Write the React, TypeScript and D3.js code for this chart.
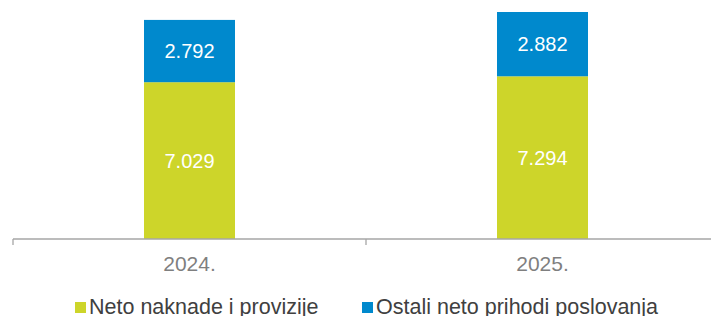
import * as d3 from 'd3'
import {useEffect, useRef} from "react";

const years = ["2024.", "2025."];
const feesValues = [7029, 7294];
const otherValues = [2792, 2882];
const seriesNames = ["Neto naknade i provizije", "Ostali neto prihodi poslovanja"];

const W = 711;
const H = 316;
const GREEN = "#cdd52a";
const BLUE = "#0089cd";
const fmt = (v: number) => d3.format(",")(v).replace(",", ".");

const App = () => {
    const svgRef = useRef<SVGSVGElement>(null);

    useEffect(() => {
        const svg = d3.select(svgRef.current)
            .html('')
            .attr("viewBox", `0 0 ${W} ${H}`);

        const rows = years.map((y, i) => ({year: y, fees: feesValues[i], other: otherValues[i]}));
        const stack = d3.stack<any>().keys(["fees", "other"])(rows);

        const x = d3.scaleBand().domain(years).range([13, 719]).paddingInner(0).paddingOuter(0);
        const y = d3.scaleLinear()
            .domain([0, d3.max(rows, d => d.fees + d.other) as number])
            .range([239, 12]);
        const barW = 91;
        const colors = [GREEN, BLUE];

        const layers = svg.selectAll(".layer")
            .data(stack)
            .enter()
            .append("g")
            .attr("fill", (_, i) => colors[i]);

        layers.selectAll("rect")
            .data(d => d)
            .enter()
            .append("rect")
            .attr("x", d => (x(d.data.year) as number) + x.bandwidth() / 2 - barW / 2)
            .attr("width", barW)
            .attr("y", d => y(d[1]))
            .attr("height", d => y(d[0]) - y(d[1]));

        layers.selectAll("text")
            .data(d => d)
            .enter()
            .append("text")
            .attr("x", d => (x(d.data.year) as number) + x.bandwidth() / 2)
            .attr("y", d => (y(d[0]) + y(d[1])) / 2 + 7)
            .attr("text-anchor", "middle")
            .attr("fill", "#fff")
            .style("font-size", "20px")
            .text(d => fmt(d[1] - d[0]));

        // axis
        const axis = svg.append("g").attr("stroke", "#a6a6a6").attr("stroke-width", 1.3);
        axis.append("line").attr("x1", 13).attr("x2", 719).attr("y1", 239).attr("y2", 239);
        const ticks = [...years.map(d => x(d) as number), x.range()[1]];
        axis.selectAll(".tick")
            .data(ticks)
            .enter()
            .append("line")
            .attr("x1", d => d).attr("x2", d => d)
            .attr("y1", 239).attr("y2", 245);

        svg.selectAll(".xlab")
            .data(years)
            .enter()
            .append("text")
            .attr("x", d => (x(d) as number) + x.bandwidth() / 2)
            .attr("y", 271)
            .attr("text-anchor", "middle")
            .attr("fill", "#7f7f7f")
            .style("font-size", "21px")
            .text(d => d);

        // legend
        const legendX = [75, 362];
        const lg = svg.selectAll(".legend")
            .data(seriesNames)
            .enter()
            .append("g")
            .attr("transform", (_, i) => `translate(${legendX[i]}, 302)`);
        lg.append("rect")
            .attr("width", 11).attr("height", 11)
            .attr("fill", (_, i) => colors[i]);
        lg.append("text")
            .attr("x", 14)
            .attr("y", 11.5)
            .attr("fill", "#404040")
            .style("font-size", "21.5px")
            .text(d => d);
    }, []);

    return (
        <svg ref={svgRef} width={W} height={H}
             style={{position: "absolute", left: 0, top: 0, fontFamily: "'Liberation Sans', Arial, sans-serif"}}></svg>
    );
}

export default App;
